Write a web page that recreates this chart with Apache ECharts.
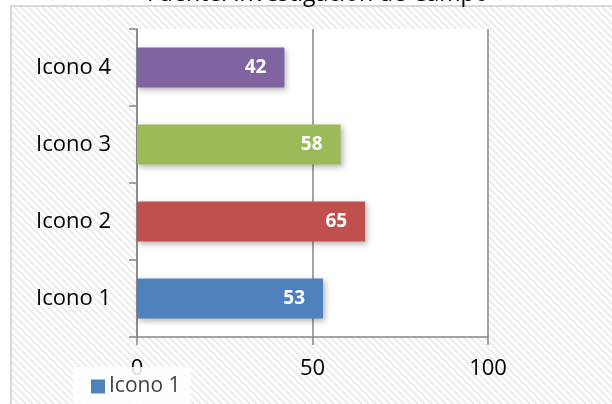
<!DOCTYPE html>
<html><head><meta charset="utf-8">
<script src="https://cdn.jsdelivr.net/npm/echarts@6/dist/echarts.min.js"></script>
<style>html,body{margin:0;padding:0;background:#fff}#c{width:612px;height:404px}</style>
</head><body><div id="c"></div>
<script>
var categories = ['Icono 1', 'Icono 2', 'Icono 3', 'Icono 4'];
var values = [53, 65, 58, 42];
var barColors = ['#4F81BD', '#C0504D', '#9BBB59', '#8064A2'];
var seriesName = 'Icono 1';
var titleText = 'Fuente: Investigación de Campo';

var pc = document.createElement('canvas');
pc.width = 7; pc.height = 7;
var ctx = pc.getContext('2d');
ctx.fillStyle = '#ffffff'; ctx.fillRect(0, 0, 7, 7);
ctx.strokeStyle = '#e8e8e8'; ctx.lineWidth = 1.6;
ctx.beginPath();
ctx.moveTo(-7, -7); ctx.lineTo(14, 14);
ctx.moveTo(-7, 0); ctx.lineTo(7, 14);
ctx.moveTo(0, -7); ctx.lineTo(14, 7);
ctx.stroke();

var chart = echarts.init(document.getElementById('c'), null, {renderer: 'canvas'});
var font = 'Open Sans';
chart.setOption({
  animation: false,
  graphic: [{
    type: 'rect', z: -10, silent: true,
    shape: {x: 11, y: 6, width: 700, height: 500},
    style: {fill: {image: pc, repeat: 'repeat'}, stroke: '#d9d9d9', lineWidth: 2}
  }],
  title: {
    text: titleText, left: 142, top: -22, padding: 5,
    textStyle: {fontFamily: font, fontSize: 23, fontWeight: 'normal', color: '#000'}
  },
  legend: {
    data: [seriesName], left: 73, top: 367, orient: 'horizontal',
    itemWidth: 14, itemHeight: 14, itemGap: 4,
    padding: [9, 10, 10, 18],
    backgroundColor: 'rgba(255,255,255,0.85)',
    icon: 'rect',
    textStyle: {fontFamily: font, fontSize: 21, color: '#404040', padding: [0, 0, 0, -1]}
  },
  grid: {left: 137, right: 124, top: 29, height: 308, containLabel: false,
    show: true, backgroundColor: '#ffffff', borderWidth: 0},
  xAxis: {
    type: 'value', min: 0, max: 100, interval: 50,
    axisLine: {show: true, lineStyle: {color: '#868686', width: 1.5}},
    axisTick: {show: true, length: 8, lineStyle: {color: '#868686', width: 1.5}},
    splitLine: {show: true, lineStyle: {color: '#868686', width: 1.5}},
    axisLabel: {fontFamily: font, fontSize: 22, color: '#000', margin: 21}
  },
  yAxis: {
    type: 'category', data: categories,
    axisLine: {show: true, lineStyle: {color: '#868686', width: 1.5}},
    axisTick: {show: true, length: 8, lineStyle: {color: '#868686', width: 1.5}},
    axisLabel: {fontFamily: font, fontSize: 22, color: '#000', margin: 26}
  },
  series: [{
    name: seriesName, type: 'bar', barWidth: 40,
    data: values.map(function (v, i) { return {value: v, itemStyle: {color: barColors[i]}}; }),
    itemStyle: {color: barColors[0], shadowBlur: 6, shadowColor: 'rgba(0,0,0,0.3)', shadowOffsetX: 2, shadowOffsetY: 2},
    label: {show: true, position: 'insideRight', distance: 18, color: '#fff',
      fontFamily: font, fontWeight: 'bold', fontSize: 19}
  }]
});
</script></body></html>
